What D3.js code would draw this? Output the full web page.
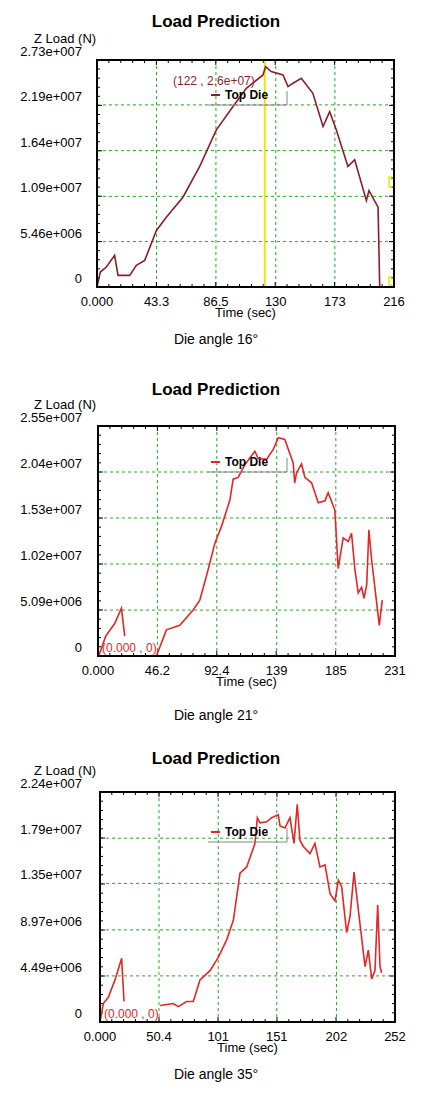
<!DOCTYPE html><html><head><meta charset="utf-8"><script src="https://cdn.jsdelivr.net/npm/d3@7"></script>
<style>body{margin:0;background:#fff}text{font-family:Arial,"Liberation Sans",sans-serif}</style></head><body>
<svg id="c" width="421" height="1098"></svg>
<script>
// Panel 1: Die angle 16°
const xTicks1=[0,43.3,86.5,130,173,216], xLab1=["0.000","43.3","86.5","130","173","216"];
const yTicks1=[0,5.46e6,1.09e7,1.64e7,2.19e7,2.73e7], yLab1=["0","5.46e+006","1.09e+007","1.64e+007","2.19e+007","2.73e+007"];
const series1=[[[0,0],[2.4,1.8e6],[6.8,2.4e6],[12.8,3.8e6],[15.3,1.4e6],[23.8,1.4e6],[28.6,2.6e6],[34.7,3.2e6],[43.2,6.8e6],[50.4,8.4e6],[62.5,10.8e6],[74.7,14.5e6],[86.8,18.9e6],[98.9,21.7e6],[108.6,23.9e6],[120.7,25.5e6],[122.6,26.5e6],[126.7,25.9e6],[135.3,25.5e6],[138.9,24.1e6],[142.5,24.5e6],[148.6,25.1e6],[157,23.3e6],[164.4,19.3e6],[169.2,21.1e6],[174,18.9e6],[182.5,14.5e6],[187.4,15.3e6],[195.9,10.4e6],[197.8,11.6e6],[204.4,9.6e6],[205.6,0]]];
// Panel 2: Die angle 21°
const xTicks2=[0,46.2,92.4,139,185,231], xLab2=["0.000","46.2","92.4","139","185","231"];
const yTicks2=[0,5.09e6,1.02e7,1.53e7,2.04e7,2.55e7], yLab2=["0","5.09e+006","1.02e+007","1.53e+007","2.04e+007","2.55e+007"];
const series2=[[[0,0],[1.3,0.3e6],[6,2.2e6],[13,3.6e6],[18.2,5.3e6],[20.8,2.2e6]],
[[45.4,0],[53.2,2.9e6],[63.6,3.4e6],[74,5.1e6],[79.2,6.2e6],[85.7,9.6e6],[90.9,12.5e6],[96.1,14.4e6],[102.6,17.3e6],[105.1,19.6e6],[109,19.8e6],[114.2,21.2e6],[122,22.7e6],[124.6,21.9e6],[131.1,21.8e6],[136.3,22.9e6],[140.2,24.2e6],[145.3,24e6],[151.8,21.4e6],[153,19.2e6],[154.4,20.3e6],[158.3,21.3e6],[160.9,19.8e6],[166.1,19.2e6],[171.3,17e6],[176.5,17.2e6],[179,18.1e6],[184.2,16.2e6],[186.8,9.7e6],[190.7,13.1e6],[194.6,12.7e6],[197.2,13.6e6],[199.8,9.6e6],[202.4,7e6],[205,7.6e6],[206.9,6.4e6],[209,7.9e6],[210.7,14e6],[212.8,10.7e6],[218.8,3.4e6],[221.1,6.2e6]]];
// Panel 3: Die angle 35°
const xTicks3=[0,50.4,101,151,202,252], xLab3=["0.000","50.4","101","151","202","252"];
const yTicks3=[0,4.49e6,8.97e6,1.35e7,1.79e7,2.24e7], yLab3=["0","4.49e+006","8.97e+006","1.35e+007","1.79e+007","2.24e+007"];
const series3=[[[0,0],[2.8,1.8e6],[7.1,2.4e6],[12.8,4.1e6],[18.5,6.2e6],[20.5,2e6]],
[[51.3,1.6e6],[62.6,1.8e6],[66.9,1.5e6],[74,2e6],[79.7,2e6],[85.4,4.1e6],[94,5.0e6],[101,6.3e6],[108.2,8e6],[113.9,9.9e6],[119.6,14.5e6],[125.3,15.1e6],[132.4,17.4e6],[134.4,19.9e6],[136.7,19.4e6],[142.4,19.5e6],[146.6,19.9e6],[152.3,20.2e6],[153.8,19.1e6],[158,18.9e6],[162.3,19.9e6],[165.7,17.4e6],[168.5,21.2e6],[170.8,17.7e6],[173.7,17.1e6],[179.4,16.4e6],[183.6,17.4e6],[187.9,15.1e6],[192.2,15.3e6],[196.5,12.5e6],[200.7,11.8e6],[203.6,13.8e6],[206.4,13.2e6],[210.7,8.7e6],[213.6,10.3e6],[217,14.6e6],[220.7,10.9e6],[226.4,5.4e6],[229.2,7e6],[232.1,4.2e6],[234.9,5e6],[237.2,11.4e6],[239.2,5.4e6],[240.5,4.8e6]]];
const captions=["Die angle 16°","Die angle 21°","Die angle 35°"];

const svg=d3.select("#c");
const panels=[
 {xt:xTicks1,xl:xLab1,yt:yTicks1,yl:yLab1,s:series1,L:97,R:394,T:60,B:287,ty:27,cap:captions[0],capy:344,col:"#8a1f2c",cursor:122,mark:"(122 , 2.6e+07)",markx:173,marky:85,legy:99},
 {xt:xTicks2,xl:xLab2,yt:yTicks2,yl:yLab2,s:series2,L:98,R:395,T:426,B:656,ty:395,cap:captions[1],capy:720,col:"#e02828",mark:"(0.000 , 0)",markx:102,marky:652,legy:466},
 {xt:xTicks3,xl:xLab3,yt:yTicks3,yl:yLab3,s:series3,L:100,R:395,T:792,B:1022,ty:764,cap:captions[2],capy:1079,col:"#e02828",mark:"(0.000 , 0)",markx:104,marky:1018,legy:836}
];
panels.forEach(p=>{
 const g=svg.append("g");
 const x=d3.scaleLinear().domain([p.xt[0],p.xt[5]]).range([p.L,p.R]);
 const y=d3.scaleLinear().domain([0,p.yt[5]]).range([p.B,p.T]);
 g.append("text").attr("x",216).attr("y",p.ty).attr("text-anchor","middle").attr("font-size",17).attr("font-weight","bold").text("Load Prediction");
 g.append("text").attr("x",34).attr("y",p.T-17).attr("font-size",13).text("Z Load (N)");
 p.xt.slice(1,5).forEach(v=>g.append("line").attr("x1",x(v)).attr("x2",x(v)).attr("y1",p.T).attr("y2",p.B).attr("stroke","#2aa82a").attr("stroke-dasharray","3,3"));
 p.yt.slice(1,5).forEach(v=>g.append("line").attr("y1",y(v)).attr("y2",y(v)).attr("x1",p.L).attr("x2",p.R).attr("stroke","#2aa82a").attr("stroke-dasharray","3,3"));
 const xs=(p.xt[5])/25, ys=p.yt[5]/25;
 for(let i=0;i<=25;i++){const xv=x(i*xs),yv=y(i*ys),l=i%5==0?5:3;
  g.append("line").attr("x1",xv).attr("x2",xv).attr("y1",p.B).attr("y2",p.B-l).attr("stroke","#000");
  g.append("line").attr("x1",xv).attr("x2",xv).attr("y1",p.T).attr("y2",p.T+l).attr("stroke","#000");
  g.append("line").attr("y1",yv).attr("y2",yv).attr("x1",p.L).attr("x2",p.L+l).attr("stroke","#000");
  g.append("line").attr("y1",yv).attr("y2",yv).attr("x1",p.R).attr("x2",p.R-l).attr("stroke","#000");}
 p.yt.forEach((v,i)=>g.append("text").attr("x",82).attr("y",y(v)-4).attr("text-anchor","end").attr("font-size",13).text(p.yl[i]));
 p.xt.forEach((v,i)=>g.append("text").attr("x",x(v)).attr("y",p.B+19).attr("text-anchor","middle").attr("font-size",13).text(p.xl[i]));
 g.append("text").attr("x",(p.L+p.R)/2).attr("y",p.B+30).attr("text-anchor","middle").attr("font-size",13).text("Time (sec)");
 g.append("text").attr("x",216).attr("y",p.capy).attr("text-anchor","middle").attr("font-size",14).text(p.cap);
 if(p.cursor!==undefined){
  g.append("line").attr("x1",x(p.cursor)).attr("x2",x(p.cursor)).attr("y1",p.T).attr("y2",p.B).attr("stroke","#e8e800").attr("stroke-width",2);
  g.append("path").attr("d",`M${p.R-2},${p.T+117}h-3v10h3M${p.R-2},${p.B-10}h-3v8h3`).attr("fill","none").attr("stroke","#e8e800").attr("stroke-width",1.5);
 }
 const line=d3.line().x(d=>x(d[0])).y(d=>y(d[1]));
 p.s.forEach(seg=>g.append("path").attr("d",line(seg)).attr("fill","none").attr("stroke",p.col).attr("stroke-width",1.6));
 g.append("line").attr("x1",211).attr("x2",220).attr("y1",p.legy-4).attr("y2",p.legy-4).attr("stroke",p.col).attr("stroke-width",2);
 g.append("text").attr("x",225).attr("y",p.legy).attr("font-size",12).attr("font-weight","bold").text("Top Die");
 g.append("path").attr("d",`M208,${p.legy+6}H287V${p.legy-8}`).attr("fill","none").attr("stroke","#888");
 g.append("text").attr("x",p.markx).attr("y",p.marky).attr("font-size",12).attr("fill",p.col).text(p.mark);
 g.append("rect").attr("x",p.L).attr("y",p.T).attr("width",p.R-p.L).attr("height",p.B-p.T).attr("fill","none").attr("stroke","#000").attr("stroke-width",2);
});
</script></body></html>
